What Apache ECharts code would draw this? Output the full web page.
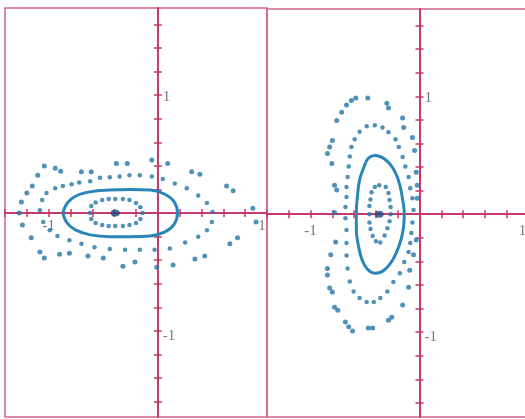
<!DOCTYPE html>
<html>
<head>
<meta charset="utf-8">
<script src="https://cdn.jsdelivr.net/npm/echarts@6/dist/echarts.min.js"></script>
<style>
  html, body { margin: 0; padding: 0; background: #fff; }
  #chart { width: 525px; height: 419px; }
</style>
</head>
<body>
<div id="chart"></div>
<script>
// Tick positions and labelled values shared by both phase portraits
const xTicks = [-1.4, -1.2, -1.0, -0.8, -0.6, -0.4, -0.2, 0.2, 0.4, 0.6, 0.8, 1.0, 1.2, 1.4];
const yTicks = [-1.6, -1.4, -1.2, -1.0, -0.8, -0.6, -0.4, -0.2, 0.2, 0.4, 0.6, 0.8, 1.0, 1.2, 1.4, 1.6];
const tickLabels = [-1, 1];

// Left portrait: equilibrium and orbits stretched along x
const leftCenter = [[-0.39, 0]];
const leftRing1 = [
  [-0.62, 0], [-0.61, 0.06], [-0.57, 0.09], [-0.51, 0.11], [-0.45, 0.12], [-0.39, 0.12],
  [-0.32, 0.12], [-0.26, 0.11], [-0.20, 0.085], [-0.16, 0.05], [-0.14, 0], [-0.16, -0.05],
  [-0.20, -0.085], [-0.26, -0.10], [-0.32, -0.11], [-0.39, -0.11], [-0.45, -0.11],
  [-0.51, -0.10], [-0.57, -0.085], [-0.61, -0.05]
];
const leftRing2 = [
  [-0.87, 0], [-0.83, 0.085], [-0.75, 0.145], [-0.62, 0.18], [-0.44, 0.195], [-0.26, 0.20],
  [-0.07, 0.195], [0.065, 0.16], [0.15, 0.095], [0.18, 0], [0.15, -0.095], [0.065, -0.16],
  [-0.07, -0.195], [-0.26, -0.20], [-0.44, -0.20], [-0.62, -0.185], [-0.75, -0.145],
  [-0.83, -0.085], [-0.87, 0]
];
const leftRing3 = [
  [-1.08, 0.025], [-1.06, 0.11], [-1.02, 0.17], [-0.94, 0.21], [-0.87, 0.23], [-0.79, 0.245],
  [-0.72, 0.26], [-0.62, 0.27], [-0.53, 0.30], [-0.44, 0.305], [-0.35, 0.31], [-0.26, 0.32],
  [-0.165, 0.32], [-0.055, 0.31], [0.045, 0.29], [0.155, 0.25], [0.265, 0.21], [0.37, 0.15],
  [0.45, 0.085], [0.50, 0.01], [0.495, -0.075], [0.45, -0.145], [0.37, -0.20], [0.25, -0.25],
  [0.11, -0.30], [-0.03, -0.31], [-0.165, -0.31], [-0.30, -0.31], [-0.44, -0.305],
  [-0.58, -0.29], [-0.70, -0.26], [-0.81, -0.23], [-0.92, -0.195], [-0.99, -0.145], [-1.05, -0.075]
];
const leftRing4 = [
  [-1.27, 0], [-1.25, 0.095], [-1.20, 0.17], [-1.15, 0.23], [-1.10, 0.32], [-1.04, 0.40],
  [-0.94, 0.38], [-0.89, 0.355], [-0.70, 0.35], [-0.61, 0.35], [-0.38, 0.42], [-0.28, 0.42],
  [-0.055, 0.45], [0.09, 0.42], [0.31, 0.35], [0.385, 0.33], [0.63, 0.23], [0.69, 0.19],
  [0.87, 0.04], [0.90, -0.075], [0.73, -0.21], [0.66, -0.26], [0.43, -0.365], [0.34, -0.39],
  [0.14, -0.44], [-0.01, -0.46], [-0.21, -0.415], [-0.32, -0.45], [-0.50, -0.38],
  [-0.64, -0.365], [-0.81, -0.34], [-0.90, -0.35], [-1.04, -0.38], [-1.08, -0.33],
  [-1.16, -0.21], [-1.24, -0.10]
];

// Right portrait: equilibrium and orbits stretched along y
const rightCenter = [[-0.37, 0]];
const rightRing1 = [
  [-0.37, 0.245], [-0.31, 0.23], [-0.285, 0.18], [-0.275, 0.12], [-0.265, 0.06], [-0.265, 0],
  [-0.275, -0.06], [-0.295, -0.12], [-0.32, -0.18], [-0.36, -0.24], [-0.40, -0.23],
  [-0.43, -0.185], [-0.45, -0.125], [-0.46, -0.07], [-0.46, 0], [-0.46, 0.07],
  [-0.45, 0.125], [-0.44, 0.185], [-0.41, 0.23]
];
const rightRing2 = [
  [-0.41, 0.50], [-0.34, 0.48], [-0.275, 0.43], [-0.22, 0.35], [-0.18, 0.245], [-0.155, 0.125],
  [-0.14, 0.01], [-0.145, -0.095], [-0.165, -0.20], [-0.21, -0.32], [-0.265, -0.415],
  [-0.34, -0.485], [-0.41, -0.50], [-0.48, -0.465], [-0.53, -0.38], [-0.56, -0.27],
  [-0.58, -0.135], [-0.58, 0.01], [-0.57, 0.15], [-0.55, 0.29], [-0.51, 0.40], [-0.47, 0.475],
  [-0.41, 0.50]
];
const rightRing3 = [
  [-0.55, 0.70], [-0.485, 0.745], [-0.41, 0.755], [-0.34, 0.735], [-0.285, 0.695], [-0.22, 0.635],
  [-0.19, 0.57], [-0.155, 0.485], [-0.13, 0.405], [-0.10, 0.315], [-0.085, 0.22], [-0.065, 0.135],
  [-0.055, 0.035], [-0.065, -0.07], [-0.075, -0.16], [-0.085, -0.245], [-0.10, -0.32],
  [-0.14, -0.405], [-0.18, -0.50], [-0.24, -0.575], [-0.295, -0.655], [-0.36, -0.71],
  [-0.42, -0.745], [-0.485, -0.745], [-0.55, -0.71], [-0.605, -0.655], [-0.64, -0.57],
  [-0.66, -0.46], [-0.67, -0.35], [-0.67, -0.245], [-0.67, -0.135], [-0.68, -0.035],
  [-0.68, 0.06], [-0.67, 0.145], [-0.67, 0.23], [-0.66, 0.315], [-0.65, 0.405], [-0.64, 0.49],
  [-0.625, 0.57], [-0.595, 0.635]
];
const rightRing4 = [
  [-0.67, 0.925], [-0.625, 0.965], [-0.585, 0.985], [-0.475, 0.985], [-0.30, 0.94], [-0.285, 0.90],
  [-0.155, 0.815], [-0.145, 0.735], [-0.065, 0.65], [-0.045, 0.54], [-0.03, 0.355], [-0.02, 0.245],
  [-0.02, 0.135], [-0.03, -0.22], [-0.055, -0.345], [-0.09, -0.475], [-0.10, -0.62],
  [-0.155, -0.77], [-0.255, -0.875], [-0.285, -0.90], [-0.43, -0.965], [-0.47, -0.965],
  [-0.615, -0.99], [-0.65, -0.955], [-0.68, -0.915], [-0.75, -0.815], [-0.78, -0.79],
  [-0.80, -0.66], [-0.825, -0.625], [-0.845, -0.515], [-0.845, -0.46], [-0.815, -0.345],
  [-0.77, -0.235], [-0.78, 0.015], [-0.76, 0.205], [-0.78, 0.245], [-0.805, 0.43],
  [-0.845, 0.515], [-0.825, 0.57], [-0.80, 0.625], [-0.76, 0.795], [-0.715, 0.865]
];

const AXIS = '#c43a6c';
const FRAME = '#d2668a';
const DOT = '#2475a8';
const CURVE = '#2a86b8';
const CORE = '#1b4a80';
const FONT = { fontFamily: 'Liberation Serif', fontSize: 15, color: '#555' };

function xAxis(grid, min, max, position) {
  return {
    type: 'value', gridIndex: grid, min: min, max: max, position: position,
    axisLine: { show: position === 'bottom', onZero: true, lineStyle: { color: AXIS, width: 2 } },
    axisTick: { show: true, customValues: xTicks, length: 4, lineStyle: { color: AXIS, width: 1.5 } },
    axisLabel: { show: false },
    splitLine: { show: false }
  };
}
function yAxis(grid, min, max, position) {
  return {
    type: 'value', gridIndex: grid, min: min, max: max, position: position,
    axisLine: { show: position === 'left', onZero: true, lineStyle: { color: AXIS, width: 2 } },
    axisTick: { show: true, customValues: yTicks, length: 4, lineStyle: { color: AXIS, width: 1.5 } },
    axisLabel: { show: false },
    splitLine: { show: false }
  };
}
function dots(data, xi, size) {
  return { type: 'scatter', xAxisIndex: xi, yAxisIndex: xi, data: data, symbol: 'circle',
           symbolSize: size, itemStyle: { color: DOT }, silent: true, clip: true };
}
function curve(data, xi) {
  return { type: 'line', xAxisIndex: xi, yAxisIndex: xi, data: data, smooth: 0.4, showSymbol: false,
           lineStyle: { color: CURVE, width: 3 }, silent: true, clip: true };
}
function core(data, xi) {
  return { type: 'scatter', xAxisIndex: xi, yAxisIndex: xi, data: data, symbol: 'circle',
           symbolSize: [9, 7], itemStyle: { color: CORE }, silent: true };
}
// Tick numbers placed next to the axes crossing at the origin
function tickText(xi, xOff, yOff) {
  const items = [];
  tickLabels.forEach(function (v) {
    items.push({ value: [v, 0], label: { position: 'bottom', distance: 0, offset: [v > 0 ? xOff : 0, yOff] } });
    items.push({ value: [0, v], label: { position: 'right', distance: 5, offset: [0, v > 0 ? 2 : 5] } });
  });
  return {
    type: 'scatter', xAxisIndex: xi, yAxisIndex: xi, data: items, symbolSize: 0, silent: true, clip: false,
    label: Object.assign({ show: true, formatter: function (p) {
      const d = p.value; const v = d[0] !== 0 ? d[0] : d[1]; return String(v);
    } }, FONT)
  };
}

const chart = echarts.init(document.getElementById('chart'), null, { renderer: 'canvas' });
chart.setOption({
  animation: false,
  backgroundColor: '#fff',
  grid: [
    { left: 5, top: 8, width: 262, height: 409, outerBoundsMode: 'none', containLabel: false,
      show: true, borderColor: FRAME, borderWidth: 1.5 },
    { left: 267, top: 9, width: 305, height: 408, outerBoundsMode: 'none', containLabel: false,
      show: true, borderColor: FRAME, borderWidth: 1.5 }
  ],
  xAxis: [
    xAxis(0, -1.4, 1.0, 'bottom'),
    xAxis(0, -1.4, 1.0, 'top'),
    xAxis(1, -1.4, 1.4, 'bottom'),
    xAxis(1, -1.4, 1.4, 'top')
  ],
  yAxis: [
    yAxis(0, -1.73, 1.74, 'left'),
    yAxis(0, -1.73, 1.74, 'right'),
    yAxis(1, -1.72, 1.74, 'left'),
    yAxis(1, -1.72, 1.74, 'right')
  ],
  series: [
    dots(leftRing1, 0, 4.5), curve(leftRing2, 0), dots(leftRing3, 0, 4.5), dots(leftRing4, 0, 5), core(leftCenter, 0),
    dots(rightRing1, 2, 4.5), curve(rightRing2, 2), dots(rightRing3, 2, 4.5), dots(rightRing4, 2, 5), core(rightCenter, 2),
    tickText(0, -5, 5), tickText(2, -6, 9)
  ]
});
</script>
</body>
</html>
